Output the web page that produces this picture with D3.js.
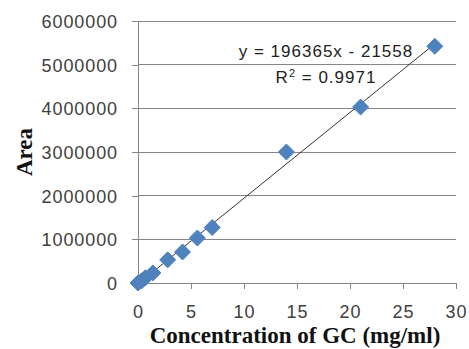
<!DOCTYPE html>
<html><head><meta charset="utf-8">
<script src="https://cdn.jsdelivr.net/npm/d3@7"></script>
<style>body{margin:0;background:#fff;} svg{display:block;}</style>
</head><body>
<script>
const concentration = [0, 0.35, 0.7, 1.4, 2.8, 4.2, 5.6, 7, 14, 21, 28];
const area = [0, 50000, 120000, 230000, 530000, 710000, 1030000, 1270000, 3000000, 4030000, 5420000];
const slope = 196365, intercept = -21558;
const xTicks = [0, 5, 10, 15, 20, 25, 30];
const yTicks = [0, 1000000, 2000000, 3000000, 4000000, 5000000, 6000000];
const equationText = "y = 196365x - 21558";
const r2Text = "0.9971";

const W = 469, H = 349;
const svg = d3.select("body").append("svg").attr("width", W).attr("height", H);
const x = d3.scaleLinear().domain([0, 30]).range([138, 456]);
const y = d3.scaleLinear().domain([0, 6000000]).range([283, 21]);
const grid = "#868686";

// gridlines
svg.append("g").selectAll("line").data(yTicks).join("line")
  .attr("x1", x(0)).attr("x2", x(30)).attr("y1", d => y(d)).attr("y2", d => y(d))
  .attr("stroke", grid).attr("stroke-width", 1).attr("shape-rendering", "crispEdges");

const tickFont = "'Liberation Sans', Arial, sans-serif";
// y axis
const ya = svg.append("g").attr("transform", `translate(${x(0)},0)`)
  .call(d3.axisLeft(y).tickValues(yTicks).tickFormat(d3.format("d")).tickSize(6).tickPadding(14));
ya.select(".domain").attr("stroke", grid).attr("shape-rendering", "crispEdges");
ya.selectAll(".tick line").attr("stroke", grid).attr("shape-rendering", "crispEdges");
ya.selectAll("text").attr("fill", "#404040").style("font-family", tickFont).style("font-size", "18px")
  .style("letter-spacing", "0.9px").attr("dy", "0.36em");

// x axis
const xa = svg.append("g").attr("transform", `translate(0,${y(0)})`)
  .call(d3.axisBottom(x).tickValues(xTicks).tickFormat(d3.format("d")).tickSize(6).tickPadding(16));
xa.select(".domain").attr("stroke", grid).attr("shape-rendering", "crispEdges");
xa.selectAll(".tick line").attr("stroke", grid).attr("shape-rendering", "crispEdges");
xa.selectAll("text").attr("fill", "#404040").style("font-family", tickFont).style("font-size", "18px")
  .style("letter-spacing", "0.9px");

// trendline
const x0 = d3.min(concentration), x1 = d3.max(concentration);
svg.append("line")
  .attr("x1", x(x0)).attr("y1", y(slope * x0 + intercept))
  .attr("x2", x(x1)).attr("y2", y(slope * x1 + intercept))
  .attr("stroke", "#333").attr("stroke-width", 1);

// diamonds
const pts = concentration.map((c, i) => ({c, a: area[i]}));
svg.append("g").selectAll("path").data(pts).join("path")
  .attr("d", "M0,-8L8,0L0,8L-8,0Z")
  .attr("transform", d => `translate(${x(d.c)},${y(d.a)})`)
  .attr("fill", "#4F81BD").attr("stroke", "#4F81BD").attr("stroke-width", 1).attr("stroke-linejoin", "round");

// equation
svg.append("text").attr("x", 326).attr("y", 57).attr("text-anchor", "middle")
  .style("font-family", tickFont).style("font-size", "17px").style("letter-spacing", "1px").attr("fill", "#222")
  .text(equationText);
const r2 = svg.append("text").attr("x", 326).attr("y", 83).attr("text-anchor", "middle")
  .style("font-family", tickFont).style("font-size", "17px").style("letter-spacing", "1px").attr("fill", "#222");
r2.append("tspan").text("R");
r2.append("tspan").attr("dy", -6).style("font-size", "11px").text("2");
r2.append("tspan").attr("dy", 6).text(" = " + r2Text);

// axis titles
svg.append("text").attr("transform", "translate(32,152) rotate(-90)").attr("text-anchor", "middle")
  .style("font-family", "'Liberation Serif', 'Times New Roman', serif").style("font-weight", "bold")
  .style("font-size", "23px").attr("fill", "#111").text("Area");
svg.append("text").attr("x", 295).attr("y", 343).attr("text-anchor", "middle")
  .style("font-family", "'Liberation Serif', 'Times New Roman', serif").style("font-weight", "bold")
  .style("font-size", "23px").attr("fill", "#111").text("Concentration of GC (mg/ml)");
</script>
</body></html>
